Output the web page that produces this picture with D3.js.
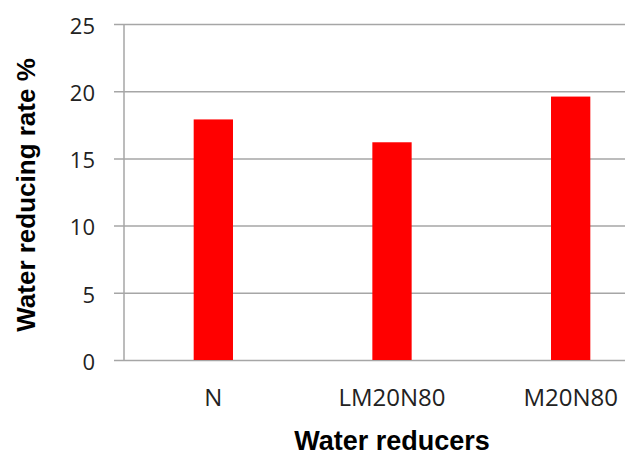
<!DOCTYPE html>
<html>
<head>
<meta charset="utf-8">
<script src="https://cdn.jsdelivr.net/npm/d3@7"></script>
<style>
  html, body { margin: 0; padding: 0; background: #fff; }
  svg { display: block; }
</style>
</head>
<body>
<svg id="chart" width="625" height="456"></svg>
<script>
// Water reducing rate for each reducer type
const categories = ["N", "LM20N80", "M20N80"];
const values = [17.9, 16.2, 19.6];
const yTicks = [0, 5, 10, 15, 20, 25];

const svg = d3.select("#chart");
const W = 625, H = 456;

const plot = { left: 124, right: 660, top: 24, bottom: 360 };

const x = d3.scaleBand()
  .domain(categories)
  .range([plot.left, plot.right])
  .paddingInner(0.78)
  .paddingOuter(0.39);

const y = d3.scaleLinear()
  .domain([0, 25])
  .range([plot.bottom, plot.top]);

const gridColor = "#a6a6a6";
const textFont = "'Open Sans', sans-serif";
const titleFont = "'Liberation Sans', Arial, sans-serif";

// Horizontal gridlines with small tick stubs left of the axis
const yAxis = d3.axisLeft(y)
  .tickValues(yTicks)
  .tickSize(-(W - plot.left))
  .tickPadding(0)
  .tickFormat(d3.format("d"));

const gy = svg.append("g")
  .attr("transform", `translate(${plot.left},0)`)
  .call(yAxis);
gy.select(".domain").remove();
gy.selectAll(".tick line")
  .attr("x1", -10)
  .attr("stroke", gridColor)
  .attr("stroke-width", 1.5);
gy.selectAll(".tick text")
  .attr("x", -29)
  .attr("dy", "0.42em")
  .attr("fill", "#222")
  .style("font-family", textFont)
  .style("font-size", "22px");

// Vertical axis line
svg.append("line")
  .attr("x1", plot.left).attr("x2", plot.left)
  .attr("y1", y(25)).attr("y2", y(0))
  .attr("stroke", gridColor)
  .attr("stroke-width", 1.5);

// Bars
svg.append("g")
  .selectAll("rect")
  .data(categories.map((c, i) => ({ c, v: values[i] })))
  .join("rect")
  .attr("x", d => x(d.c))
  .attr("width", x.bandwidth())
  .attr("y", d => y(d.v))
  .attr("height", d => y(0) - y(d.v))
  .attr("fill", "#ff0000");

// Category labels
const xAxis = d3.axisBottom(x).tickSize(0).tickPadding(0);
const gx = svg.append("g")
  .attr("transform", `translate(0,${plot.bottom})`)
  .call(xAxis);
gx.select(".domain").remove();
gx.selectAll(".tick text")
  .attr("y", 46)
  .attr("dy", 0)
  .attr("fill", "#222")
  .style("font-family", textFont)
  .style("font-size", "24px");

// Axis titles
svg.append("text")
  .attr("x", (plot.left + plot.right) / 2)
  .attr("y", 450)
  .attr("text-anchor", "middle")
  .style("font-family", titleFont)
  .style("font-weight", "bold")
  .style("font-size", "27px")
  .attr("fill", "#000")
  .text("Water reducers");

svg.append("text")
  .attr("transform", "translate(35,195) rotate(-90)")
  .attr("text-anchor", "middle")
  .style("font-family", titleFont)
  .style("font-weight", "bold")
  .style("font-size", "26px")
  .attr("fill", "#000")
  .text("Water reducing rate %");
</script>
</body>
</html>
